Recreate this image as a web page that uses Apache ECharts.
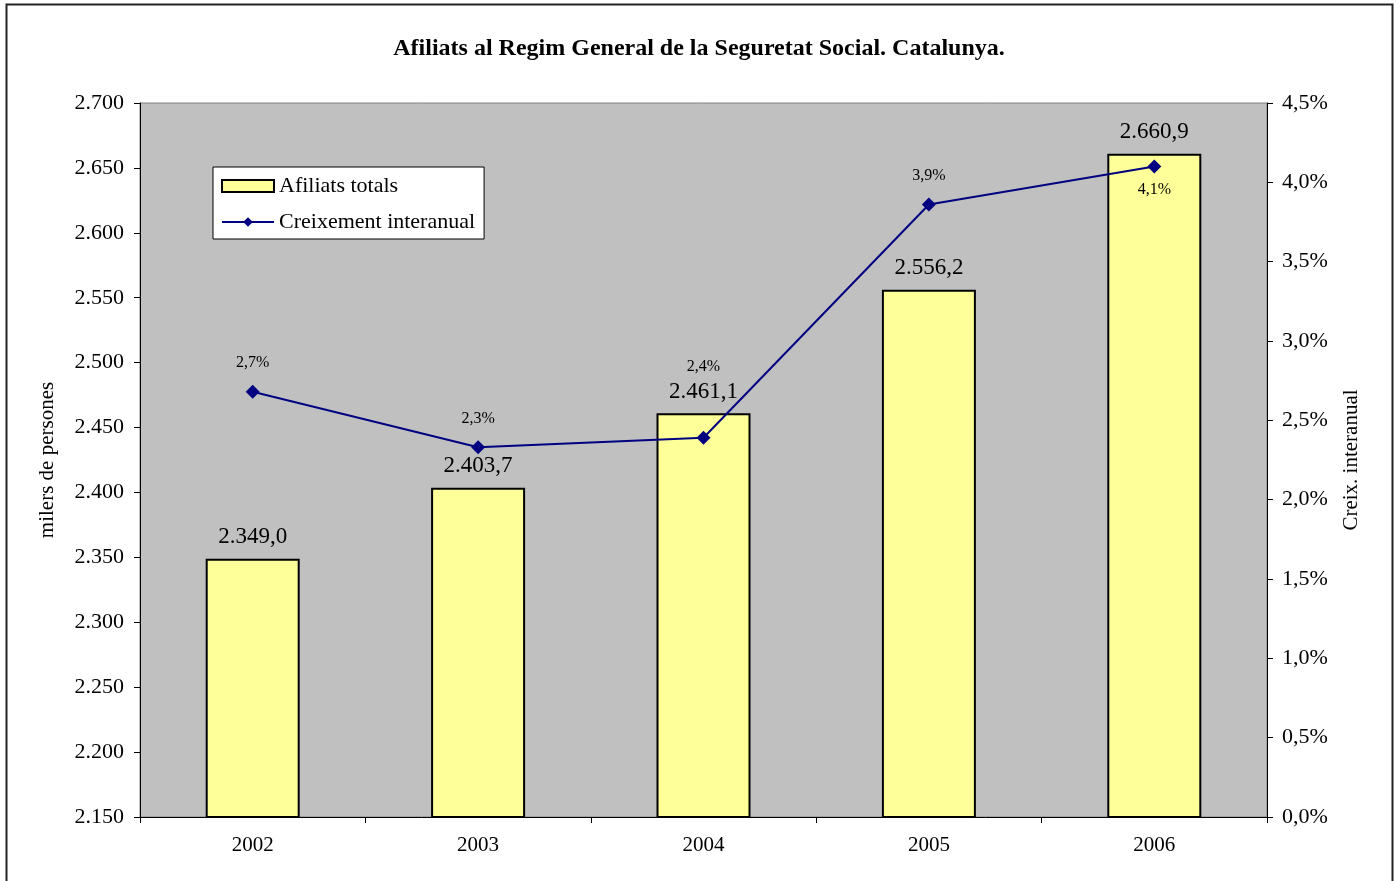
<!DOCTYPE html>
<html>
<head>
<meta charset="utf-8">
<script src="https://cdn.jsdelivr.net/npm/echarts@6/dist/echarts.min.js"></script>
<style>
html, body { margin: 0; padding: 0; background: #fff; }
#main { width: 1398px; height: 881px; }
</style>
</head>
<body>
<div id="main"></div>
<script>
// dades
var anys = ['2002', '2003', '2004', '2005', '2006'];
var afiliats = [2349.0, 2403.7, 2461.1, 2556.2, 2660.9];
var creixement = [2.68, 2.33, 2.39, 3.86, 4.10];

var leftTicks = { min: 2150, max: 2700, interval: 50 };
var rightTicks = { min: 0, max: 4.5, interval: 0.5 };

var serif = '"Liberation Serif", "DejaVu Serif", serif';

// format català: 2.349,0
function fmtMilers(v, dec) {
	var s = v.toFixed(dec);
	var parts = s.split('.');
	var ent = parts[0].replace(/\B(?=(\d{3})+(?!\d))/g, '.');
	return parts.length > 1 ? ent + ',' + parts[1] : ent;
}

var myChart = echarts.init(document.getElementById('main'));

// posicio de les etiquetes de la linia (per evitar solapaments)
var lineLabelOffset = [-29, -29, -71, -29, 23];

var lineData = creixement.map(function(v, i) {
	return {
		value: v,
		label: {
			position: 'inside',
			offset: [0, lineLabelOffset[i]]
		}
	};
});

var option = {
	backgroundColor: '#fff',
	animation: false,
	textStyle: { fontFamily: serif },
	title: {
		text: 'Afiliats al Regim General de la Seguretat Social. Catalunya.',
		left: 'center',
		top: 32,
		textStyle: {
			fontFamily: serif,
			fontSize: 24,
			fontWeight: 'bold',
			color: '#000'
		}
	},
	graphic: [{
		type: 'rect',
		shape: { x: 6.5, y: 4.5, width: 1386, height: 900 },
		style: { fill: 'none', stroke: '#222', lineWidth: 2 },
		silent: true
	}],
	legend: {
		orient: 'vertical',
		left: 213,
		top: 167,
		padding: [8, 9, 6, 8],
		itemGap: 14,
		itemWidth: 52,
		itemHeight: 12,
		backgroundColor: '#fff',
		borderColor: '#000',
		borderWidth: 1,
		borderRadius: 0,
		textStyle: { fontFamily: serif, fontSize: 22, color: '#000' },
		data: [{
			name: 'Afiliats totals',
			icon: 'rect',
			itemStyle: { color: '#FFFF99', borderColor: '#000', borderWidth: 2 }
		}, {
			name: 'Creixement interanual'
		}]
	},
	grid: {
		left: 140,
		right: 131,
		top: 103,
		bottom: 64,
		show: true,
		backgroundColor: '#C0C0C0',
		borderColor: '#808080',
		borderWidth: 1
	},
	xAxis: {
		type: 'category',
		data: anys,
		axisLine: { lineStyle: { color: '#000', width: 1 } },
		axisTick: { show: true, length: 6, lineStyle: { color: '#000' } },
		axisLabel: { fontFamily: serif, fontSize: 21, color: '#000', margin: 18 }
	},
	yAxis: [{
		type: 'value',
		min: leftTicks.min,
		max: leftTicks.max,
		interval: leftTicks.interval,
		name: 'milers de persones',
		nameLocation: 'middle',
		nameGap: 82,
		nameRotate: 90,
		nameTextStyle: { fontFamily: serif, fontSize: 21, color: '#000' },
		splitLine: { show: false },
		axisLine: { show: true, lineStyle: { color: '#000' } },
		axisTick: { show: true, length: 6, lineStyle: { color: '#000' } },
		axisLabel: {
			fontFamily: serif, fontSize: 22, color: '#000', margin: 16,
			formatter: function(v) { return fmtMilers(v, 0); }
		}
	}, {
		type: 'value',
		min: rightTicks.min,
		max: rightTicks.max,
		interval: rightTicks.interval,
		name: 'Creix. interanual',
		nameLocation: 'middle',
		nameGap: 74,
		nameRotate: 90,
		nameTextStyle: { fontFamily: serif, fontSize: 21, color: '#000' },
		splitLine: { show: false },
		axisLine: { show: true, lineStyle: { color: '#000' } },
		axisTick: { show: true, length: 6, lineStyle: { color: '#000' } },
		axisLabel: {
			fontFamily: serif, fontSize: 22, color: '#000', margin: 15,
			formatter: function(v) { return v.toFixed(1).replace('.', ',') + '%'; }
		}
	}],
	series: [{
		name: 'Afiliats totals',
		type: 'bar',
		yAxisIndex: 0,
		data: afiliats,
		barWidth: 94,
		itemStyle: { color: '#FFFF99', borderColor: '#000', borderWidth: 2 },
		label: {
			show: true,
			position: 'top',
			distance: 10,
			fontFamily: serif,
			fontSize: 23,
			color: '#000',
			formatter: function(p) { return fmtMilers(p.value, 1); }
		},
		z: 2
	}, {
		name: 'Creixement interanual',
		type: 'line',
		yAxisIndex: 1,
		data: lineData,
		symbol: 'diamond',
		symbolSize: 14,
		lineStyle: { color: '#000080', width: 2 },
		itemStyle: { color: '#000080' },
		label: {
			show: true,
			fontFamily: serif,
			fontSize: 16,
			color: '#000',
			formatter: function(p) { return p.value.toFixed(1).replace('.', ',') + '%'; }
		},
		z: 5
	}]
};

myChart.setOption(option);
</script>
</body>
</html>
